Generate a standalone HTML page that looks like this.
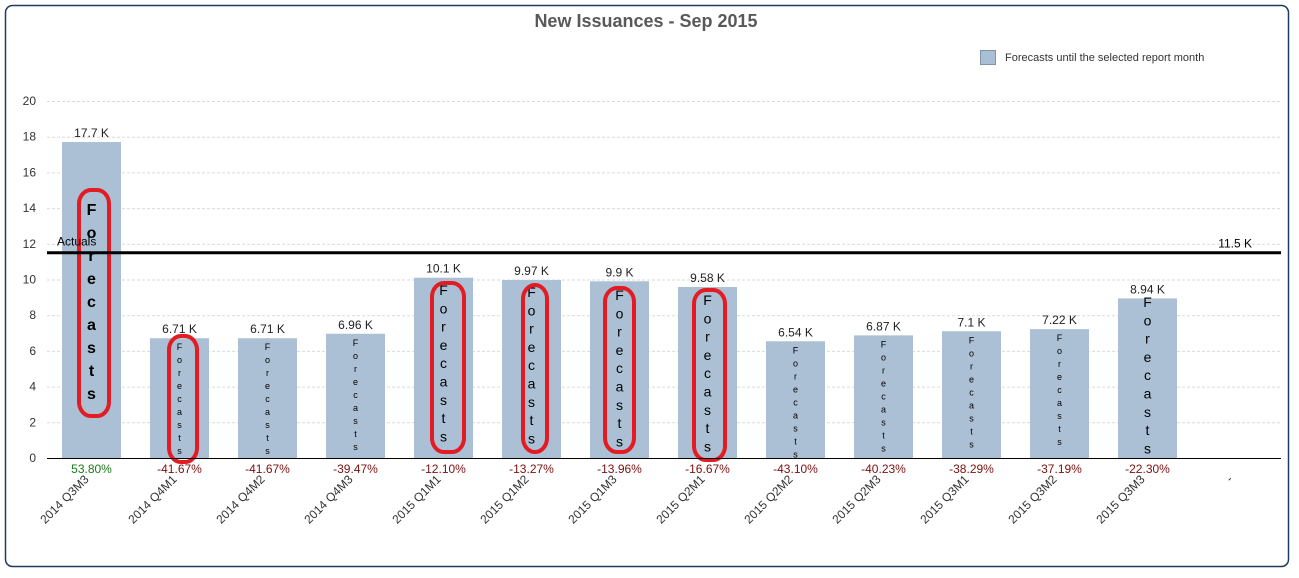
<!DOCTYPE html>
<html><head><meta charset="utf-8"><style>
html,body{margin:0;padding:0;background:#fff;}
svg{display:block;font-family:"Liberation Sans",Arial,sans-serif;}
</style></head><body>
<svg id="c" width="1299" height="578" viewBox="0 0 1299 578">
<rect x="5.5" y="5.5" width="1283" height="561" rx="7" fill="#fff" stroke="#1e3a5f" stroke-width="1.5"/>
<text x="646" y="27" text-anchor="middle" font-size="18" font-weight="bold" fill="#595959">New Issuances - Sep 2015</text>
<g>
<rect x="980.5" y="50.5" width="15" height="14" fill="#a9bfd3" stroke="#8095aa"/>
<text x="1005" y="61" font-size="11" fill="#333">Forecasts until the selected report month</text>
</g>
<g id="grid"></g><g id="bars"></g><g id="marks"></g>
</svg>
<script>
const categories=["2014 Q3M3","2014 Q4M1","2014 Q4M2","2014 Q4M3","2015 Q1M1","2015 Q1M2","2015 Q1M3","2015 Q2M1","2015 Q2M2","2015 Q2M3","2015 Q3M1","2015 Q3M2","2015 Q3M3","-"];
const values=[17.7,6.71,6.71,6.96,10.1,9.97,9.9,9.58,6.54,6.87,7.1,7.22,8.94,null];
const valueLabels=["17.7 K","6.71 K","6.71 K","6.96 K","10.1 K","9.97 K","9.9 K","9.58 K","6.54 K","6.87 K","7.1 K","7.22 K","8.94 K",""];
const pctLabels=["53.80%","-41.67%","-41.67%","-39.47%","-12.10%","-13.27%","-13.96%","-16.67%","-43.10%","-40.23%","-38.29%","-37.19%","-22.30%",""];
const actualValue=11.5;
const actualLabel="11.5 K";
const yTicks=[0,2,4,6,8,10,12,14,16,18,20];
const NS="http://www.w3.org/2000/svg";
const y0=458,pxPer=17.85,xStart=47.5,step=88,bw=59,xEnd=1281;
const y=v=>y0-v*pxPer;
const xc=i=>xStart+step*i+44;
function mk(t,a,p){const e=document.createElementNS(NS,t);for(const k in a)e.setAttribute(k,a[k]);p.appendChild(e);return e;}
const grid=document.getElementById('grid'),bars=document.getElementById('bars'),marks=document.getElementById('marks');
yTicks.forEach(t=>{
  if(t>0){const l=mk('line',{x1:47,x2:xEnd,y1:y(t)+.5,y2:y(t)+.5,stroke:'#d9d9d9','stroke-dasharray':'3,2'},grid);
  
  }
  const tx=mk('text',{x:36,y:y(t)+4,'text-anchor':'end','font-size':12,fill:'#333'},grid);tx.textContent=t;
  
  
});
const fc={0:[1,215,23],4:[2,295,18.3],5:[2,297,18.3],6:[2,300,18.3],7:[2,305,18.3],12:[2,307,18.3]};
const ovals={0:[79,190,30,226],1:[169,336,28,126],4:[432,283,32,169],5:[523,285,24,167],6:[605,288,29,164],7:[694,290,31,170]};
categories.forEach((c,i)=>{
  const cx=xc(i);
  if(values[i]!=null){
    const r=mk('rect',{x:cx-bw/2,y:y(values[i]),width:bw,height:y0-y(values[i]),fill:'#abc0d4'},bars);
    
    
    const vl=mk('text',{x:cx,y:y(values[i])-5,'text-anchor':'middle','font-size':12,fill:'#222'},marks);vl.textContent=valueLabels[i];
    
    
    const s=fc[i]||[0,y(values[i])+12,13];
    "Forecasts".split("").forEach((ch,k)=>{
      const t=mk('text',{x:cx,y:s[1]+k*s[2],'text-anchor':'middle','font-size':s[0]==1?16:s[0]==2?14:9,'font-weight':s[0]==1?'bold':'normal',fill:'#000'},marks);t.textContent=ch;
      
      
    });
    const p=mk('text',{x:cx,y:473,'text-anchor':'middle','font-size':12,fill:i==0?'#1a7a1a':'#7a1010'},marks);p.textContent=pctLabels[i];
    
    
  }
  const lx=cx-2,ly=480;
  const lb=mk('text',{x:lx,y:ly,'text-anchor':'end','font-size':12,fill:'#333',transform:`rotate(-45 ${lx} ${ly})`},marks);lb.textContent=c;
  
  
});
Object.keys(ovals).forEach(k=>{const o=ovals[k];
  const e=mk('rect',{x:o[0],y:o[1],width:o[2],height:o[3],rx:12,ry:14,fill:'none',stroke:'#e31b23','stroke-width':4},marks);
  
  
});
const ax=mk('line',{x1:47,x2:xEnd,y1:y0+.5,y2:y0+.5,stroke:'#000','stroke-width':1},marks);


const al=mk('line',{x1:47,x2:xEnd,y1:y(actualValue),y2:y(actualValue),stroke:'#000','stroke-width':3},marks);


const at=mk('text',{x:57,y:y(actualValue)-7,'font-size':12,fill:'#000'},marks);at.textContent="Actuals";


const av=mk('text',{x:1252,y:y(actualValue)-5,'text-anchor':'end','font-size':12,fill:'#000'},marks);av.textContent=actualLabel;


</script>
</body></html>
